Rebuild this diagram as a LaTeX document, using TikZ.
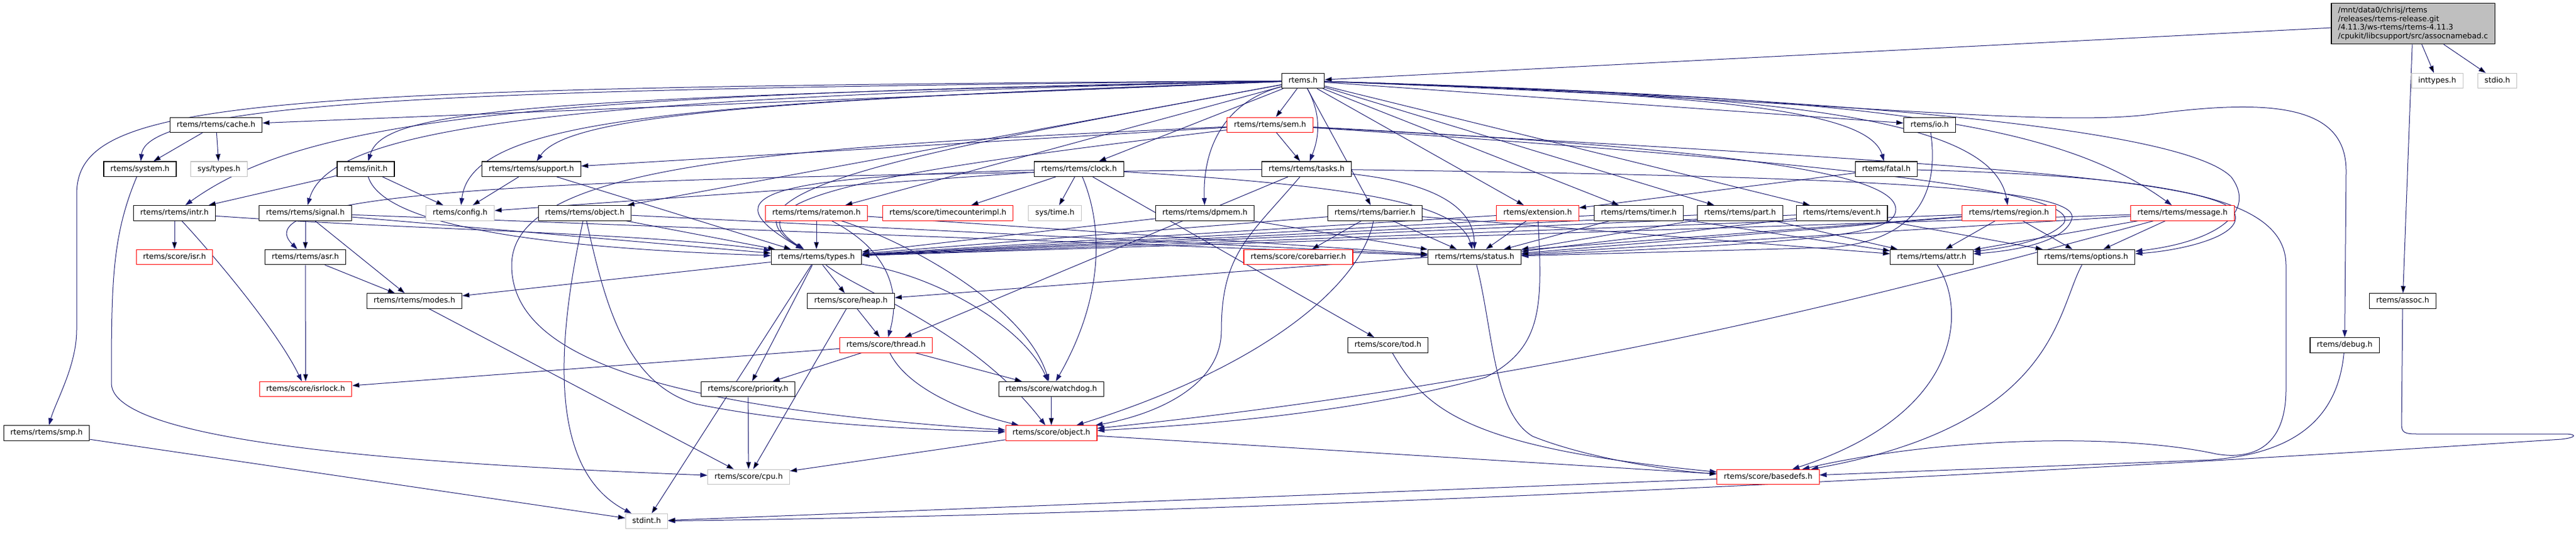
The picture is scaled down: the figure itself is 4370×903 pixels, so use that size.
\documentclass[tikz,border=0pt]{standalone}
\usepackage{fontspec}
\setmainfont{DejaVu Sans}
\usepackage{xcolor}
\usepackage{tikz}
\usetikzlibrary{arrows.meta}
\pgfdeclarelayer{background}
\pgfsetlayers{background,main}
\definecolor{depblue}{HTML}{191970}
\definecolor{extgray}{HTML}{BFBFBF}

\begin{document}
\begin{tikzpicture}
        [
        x=1bp, y=-1bp,
        hdrbase/.style = {line width=1.1bp, font=\fontsize{12.8bp}{14.7bp}\selectfont, inner xsep=11.5bp},
        hdr/.style = {hdrbase, draw=black, fill=white, text height=9.6bp, text depth=2.9bp, inner ysep=6.5bp},
        hdrred/.style = {hdr, draw=red},
        hdrext/.style = {hdr, draw=extgray},
        mainfile/.style = {hdrbase, draw=black, fill=extgray, align=left, inner ysep=6.5bp},
        dep/.style = {-{Triangle[length=12bp, width=8bp]}, draw=depblue, line width=1bp}
        ]
    \useasboundingbox (0,0) rectangle (4370,903);

    \node[mainfile] (main) at (4093.5,40) {/mnt/data0/chrisj/rtems\\/releases/rtems-release.git\\/4.11.3/ws-rtems/rtems-4.11.3\\/cpukit/libcsupport/src/assocnamebad.c};

    \node[hdr] (rtems) at (2210.5,137) {rtems.h};
    \node[hdrext] (inttypes) at (4134.5,137) {inttypes.h};
    \node[hdrext] (stdio) at (4236.5,137) {stdio.h};

    \node[hdr] (cache) at (366.5,211.8) {rtems/rtems/cache.h};
    \node[hdrred] (sem) at (2154.5,211.8) {rtems/rtems/sem.h};
    \node[hdr] (io) at (3273.5,211.8) {rtems/io.h};

    \node[hdr] (system) at (237.5,286.7) {rtems/system.h};
    \node[hdrext] (systypes) at (371.5,286.7) {sys/types.h};
    \node[hdr] (init) at (620.5,286.7) {rtems/init.h};
    \node[hdr] (support) at (901.5,286.7) {rtems/rtems/support.h};
    \node[hdr] (clock) at (1830.5,286.7) {rtems/rtems/clock.h};
    \node[hdr] (tasks) at (2216.5,286.7) {rtems/rtems/tasks.h};
    \node[hdr] (fatal) at (3200,286.7) {rtems/fatal.h};

    \node[hdr] (intr) at (296,361.3) {rtems/rtems/intr.h};
    \node[hdr] (signal) at (518,361.3) {rtems/rtems/signal.h};
    \node[hdrext] (config) at (780.5,361.3) {rtems/config.h};
    \node[hdr] (robject) at (992,361.3) {rtems/rtems/object.h};
    \node[hdrred] (ratemon) at (1385,361.3) {rtems/rtems/ratemon.h};
    \node[hdrred] (tcimpl) at (1608,361.3) {rtems/score/timecounterimpl.h};
    \node[hdrext] (systime) at (1789.5,361.3) {sys/time.h};
    \node[hdr] (dpmem) at (2044,361.3) {rtems/rtems/dpmem.h};
    \node[hdr] (barrier) at (2332.5,361.3) {rtems/rtems/barrier.h};
    \node[hdrred] (extension) at (2608.5,361.3) {rtems/extension.h};
    \node[hdr] (timer) at (2780,361.3) {rtems/rtems/timer.h};
    \node[hdr] (part) at (2952,361.3) {rtems/rtems/part.h};
    \node[hdr] (event) at (3124.5,361.3) {rtems/rtems/event.h};
    \node[hdrred] (region) at (3408,361.3) {rtems/rtems/region.h};
    \node[hdrred] (message) at (3702.5,361.3) {rtems/rtems/message.h};

    \node[hdrred] (isr) at (296,436) {rtems/score/isr.h};
    \node[hdr] (asr) at (518,436) {rtems/rtems/asr.h};
    \node[hdr] (types) at (1385,436) {rtems/rtems/types.h};
    \node[hdrred] (corebarrier) at (2202.5,436) {rtems/score/corebarrier.h};
    \node[hdr] (status) at (2501.5,436) {rtems/rtems/status.h};
    \node[hdr] (attr) at (3277,436) {rtems/rtems/attr.h};
    \node[hdr] (options) at (3539,436) {rtems/rtems/options.h};

    \node[hdr] (modes) at (703,510.5) {rtems/rtems/modes.h};
    \node[hdr] (heap) at (1443.5,510.5) {rtems/score/heap.h};
    \node[hdr] (assoc) at (4076,510.5) {rtems/assoc.h};

    \node[hdrred] (thread) at (1503,585.3) {rtems/score/thread.h};
    \node[hdr] (tod) at (2354.5,585.3) {rtems/score/tod.h};
    \node[hdr] (debug) at (3977.5,585.3) {rtems/debug.h};

    \node[hdrred] (isrlock) at (518.5,660) {rtems/score/isrlock.h};
    \node[hdr] (priority) at (1269,660) {rtems/score/priority.h};
    \node[hdr] (watchdog) at (1783.5,660) {rtems/score/watchdog.h};

    \node[hdr] (smp) at (79,734.5) {rtems/rtems/smp.h};
    \node[hdrred] (sobject) at (1783.5,734.5) {rtems/score/object.h};

    \node[hdrext] (cpu) at (1270,809) {rtems/score/cpu.h};
    \node[hdrred] (basedefs) at (2999.5,809) {rtems/score/basedefs.h};

    \node[hdrext] (stdint) at (1097,884) {stdint.h};

    \begin{pgfonlayer}{background}
    \draw[dep] (main) edge (rtems) edge (inttypes) edge (stdio) edge (assoc);

    \draw[dep] (rtems) edge (cache) edge (sem) edge (io) edge (clock) edge (robject)
        edge (ratemon) edge (barrier) edge (extension) edge (timer) edge (part) edge (event);
    \draw[dep] (rtems) .. controls (2245,200) and (2235,240) .. (tasks);
    \draw[dep] (rtems) .. controls (900,150) and (250,165) .. (system);
    \draw[dep] (rtems) .. controls (400,148) and (130,170) .. (130,330) -- (130,560) .. controls (130,620) and (95,680) .. (smp);
    \draw[dep] (rtems) .. controls (900,160) and (520,200) .. (intr);
    \draw[dep] (rtems) .. controls (850,165) and (650,190) .. (init);
    \draw[dep] (rtems) .. controls (950,165) and (560,215) .. (signal);
    \draw[dep] (rtems) .. controls (1150,175) and (800,200) .. (config);
    \draw[dep] (rtems) .. controls (1250,170) and (960,200) .. (support);
    \draw[dep] (rtems) .. controls (1600,250) and (1190,320) .. (types);
    \draw[dep] (rtems) .. controls (2070,175) and (2040,260) .. (dpmem);
    \draw[dep] (rtems) .. controls (2900,160) and (3170,185) .. (fatal);
    \draw[dep] (rtems) .. controls (3000,160) and (3380,195) .. (region);
    \draw[dep] (rtems) .. controls (3150,165) and (3480,200) .. (message);
    \draw[dep] (rtems) .. controls (3100,165) and (3700,215) .. (3785,300) .. controls (3830,360) and (3760,410) .. (options);
    \draw[dep] (rtems) .. controls (3100,170) and (3450,215) .. (3640,195) .. controls (3860,165) and (3980,180) .. (3980,290) -- (debug);

    \draw[dep] (cache) edge (system) edge (systypes);
    \draw[dep] (system) .. controls (190,400) and (189,480) .. (189,650) .. controls (189,760) and (800,790) .. (cpu);
    \draw[dep] (init) edge (intr) edge (config);
    \draw[dep] (init) .. controls (650,380) and (900,420) .. (types);
    \draw[dep] (support) edge (config) edge (types);
    \draw[dep] (clock) edge (tcimpl) edge (systime) edge (config) edge (tod);
    \draw[dep] (clock) .. controls (1300,300) and (1200,330) .. (types);
    \draw[dep] (clock) .. controls (2300,315) and (2475,345) .. (status);
    \draw[dep] (clock) .. controls (1870,380) and (1875,500) .. (watchdog);

    \draw[dep] (sem) edge (tasks) edge (support);
    \draw[dep] (sem) .. controls (1500,290) and (1225,335) .. (types);
    \draw[dep] (sem) .. controls (2900,250) and (3216,290) .. (3216,355) .. controls (3216,395) and (3120,410) .. (status);
    \draw[dep] (sem) .. controls (3200,280) and (3540,330) .. (3500,380) .. controls (3470,410) and (3400,420) .. (attr);
    \draw[dep] (sem) .. controls (3200,270) and (3760,300) .. (3790,360) .. controls (3810,400) and (3700,425) .. (options);
    \draw[dep] (sem) .. controls (1300,250) and (868,280) .. (868,450) .. controls (868,600) and (1100,690) .. (sobject);
    \draw[dep] (tasks) edge (thread);
    \draw[dep] (tasks) .. controls (1000,300) and (400,320) .. (asr);
    \draw[dep] (tasks) .. controls (2430,310) and (2500,350) .. (status);
    \draw[dep] (tasks) .. controls (3200,300) and (3525,320) .. (3515,370) .. controls (3505,410) and (3420,425) .. (attr);
    \draw[dep] (tasks) .. controls (2120,400) and (2072,430) .. (2072,560) .. controls (2072,660) and (1950,705) .. (sobject);
    \draw[dep] (fatal) edge (extension);
    \draw[dep] (fatal) .. controls (3700,300) and (3878,340) .. (3878,450) -- (3878,660) .. controls (3878,760) and (3820,780) .. (3760,770) .. controls (3600,735) and (3300,740) .. (basedefs);
    \draw[dep] (io) .. controls (3290,330) and (3250,410) .. (3100,420) -- (status);

    \draw[dep] (intr) edge (isr);
    \draw[dep] (intr) .. controls (700,390) and (1100,395) .. (types);
    \draw[dep] (intr) .. controls (360,430) and (470,560) .. (isrlock);
    \draw[dep] (signal) edge (asr) edge (modes) edge (types) edge (status);
    \draw[dep] (robject) edge (types) edge (status);
    \draw[dep] (robject) .. controls (1025,510) and (1060,650) .. (1180,685) .. controls (1350,720) and (1550,728) .. (sobject);
    \draw[dep] (robject) .. controls (940,600) and (935,800) .. (stdint);
    \draw[dep] (ratemon) edge (types) edge (status);
    \draw[dep] (ratemon) .. controls (1480,410) and (1535,470) .. (thread);
    \draw[dep] (ratemon) .. controls (1540,410) and (1740,520) .. (watchdog);
    \draw[dep] (dpmem) edge (types) edge (status);
    \draw[dep] (barrier) edge (types) edge (corebarrier) edge (status) edge (attr);
    \draw[dep] (barrier) .. controls (2310,480) and (2150,620) .. (sobject);
    \draw[dep] (extension) edge (status) edge (types);
    \draw[dep] (extension) .. controls (2617,520) and (2617,590) .. (2520,640) .. controls (2300,700) and (2050,720) .. (sobject);
    \draw[dep] (timer) edge (types) edge (status) edge (attr);
    \draw[dep] (part) edge (types) edge (status) edge (attr);
    \draw[dep] (event) edge (types) edge (status) edge (options);
    \draw[dep] (region) edge (attr) edge (options) edge (status) edge (types) edge (heap);
    \draw[dep] (message) edge (attr) edge (options) edge (status) edge (types);
    \draw[dep] (message) .. controls (3300,470) and (2700,640) .. (sobject);

    \draw[dep] (asr) edge (modes) edge (isrlock);
    \draw[dep] (types) edge (heap) edge (priority) edge (stdint) edge (modes);
    \draw[dep] (types) .. controls (1450,490) and (1650,560) .. (sobject);
    \draw[dep] (types) .. controls (1600,470) and (1740,560) .. (watchdog);
    \draw[dep] (status) .. controls (2533,560) and (2533,700) .. (2600,740) .. controls (2700,780) and (2850,800) .. (basedefs);
    \draw[dep] (attr) .. controls (3335,520) and (3335,700) .. (basedefs);
    \draw[dep] (options) .. controls (3488,530) and (3488,720) .. (basedefs);

    \draw[dep] (modes) edge (cpu);
    \draw[dep] (heap) edge (thread) edge (cpu);
    \draw[dep] (thread) edge (priority) edge (watchdog) edge (isrlock);
    \draw[dep] (thread) .. controls (1540,660) and (1640,700) .. (sobject);
    \draw[dep] (tod) .. controls (2420,700) and (2500,760) .. (basedefs);
    \draw[dep] (debug) .. controls (3965,720) and (3880,770) .. (3750,780) -- (basedefs);
    \draw[dep] (assoc) -- (4074,720) .. controls (4074,734) and (4080,736) .. (4100,736) -- (4350,736) .. controls (4372,736) and (4372,742) .. (4345,745) .. controls (3500,800) and (2200,870) .. (stdint);
    \draw[dep] (priority) edge (cpu);
    \draw[dep] (watchdog) edge (sobject);
    \draw[dep] (sobject) edge (cpu) edge (basedefs);
    \draw[dep] (smp) edge (stdint);
    \draw[dep] (basedefs) edge (stdint);
    \end{pgfonlayer}
\end{tikzpicture}
\end{document}
